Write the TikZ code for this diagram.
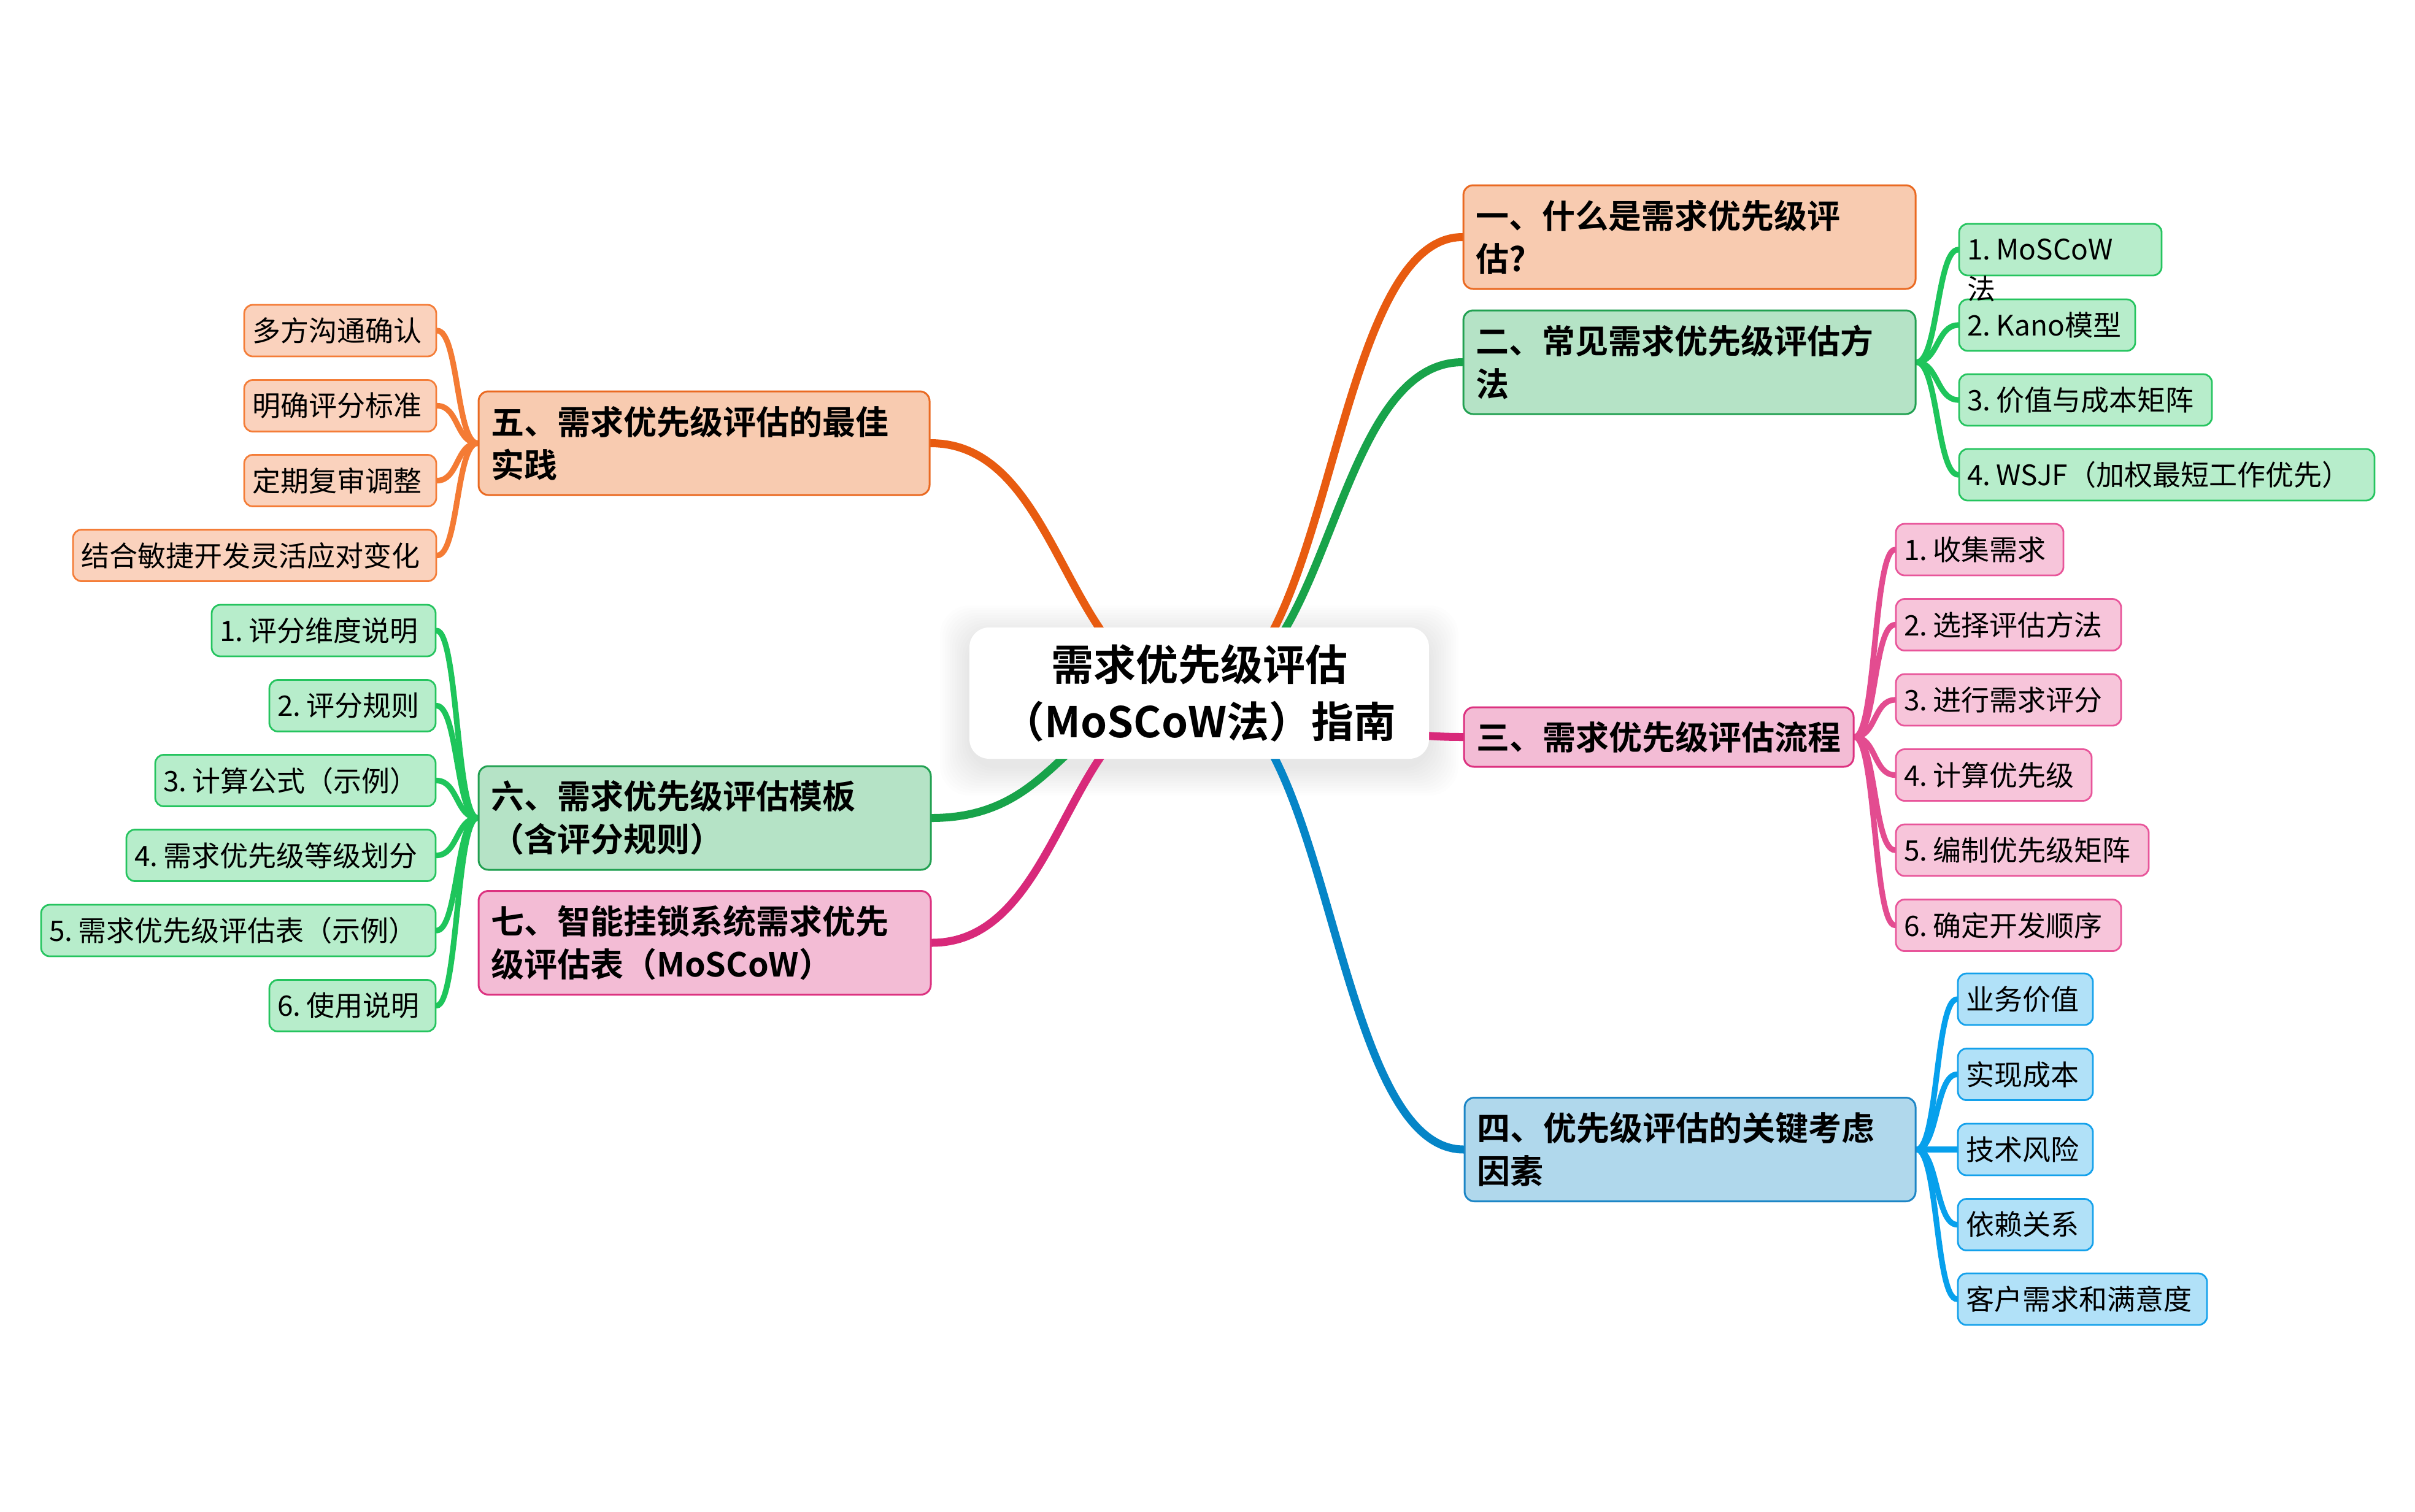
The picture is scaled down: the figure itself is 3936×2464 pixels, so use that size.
\documentclass[tikz,border=0pt]{standalone}
\usepackage{fontspec}
\setmainfont{Noto Sans CJK SC}[BoldFont={Noto Sans CJK SC Bold}]
\pgfdeclarelayer{bg}
\pgfsetlayers{bg,main}
\newcommand\nsp{\hspace{0.2em}}
\definecolor{orLine}{HTML}{E85B10}
\definecolor{orFill}{HTML}{F8CBB0}
\definecolor{orDraw}{HTML}{EA6A22}
\definecolor{orSubFill}{HTML}{FAD2BD}
\definecolor{orSubDraw}{HTML}{F47D38}
\definecolor{orSub}{HTML}{F47B34}
\definecolor{grLine}{HTML}{18A34A}
\definecolor{grFill}{HTML}{B5E3C6}
\definecolor{grDraw}{HTML}{22A152}
\definecolor{grSubFill}{HTML}{B7EDCB}
\definecolor{grSubDraw}{HTML}{25C45F}
\definecolor{grSub}{HTML}{1EC55B}
\definecolor{pkLine}{HTML}{D8297A}
\definecolor{pkFill}{HTML}{F3BCD5}
\definecolor{pkDraw}{HTML}{DC3280}
\definecolor{pkSubFill}{HTML}{F7C5DA}
\definecolor{pkSubDraw}{HTML}{E8559A}
\definecolor{pkSub}{HTML}{E34C90}
\definecolor{blLine}{HTML}{0585C7}
\definecolor{blFill}{HTML}{B0D8EC}
\definecolor{blDraw}{HTML}{1D86C6}
\definecolor{blSubFill}{HTML}{B1E1F8}
\definecolor{blSubDraw}{HTML}{14A1EB}
\definecolor{blSub}{HTML}{07A0EC}
\tikzset{
  rootbox/.style={fill=white, rounded corners=8pt, minimum width=187.25pt, minimum height=53.5pt,
    align=center, inner sep=0pt, font=\fontsize{17.25pt}{23.25pt}\selectfont\bfseries},
  mainbox/.style={rounded corners=4pt, line width=0.75pt, inner xsep=5pt, inner ysep=0pt,
    align=left, minimum height=42.25pt, font=\fontsize{13.5pt}{17.5pt}\selectfont\bfseries},
  subbox/.style={rounded corners=3.5pt, line width=0.7pt, inner xsep=3.25pt, inner ysep=0pt,
    align=left, minimum height=21pt, font=\fontsize{11.5pt}{15pt}\selectfont},
  orM/.style={mainbox, fill=orFill, draw=orDraw},
  grM/.style={mainbox, fill=grFill, draw=grDraw},
  pkM/.style={mainbox, fill=pkFill, draw=pkDraw},
  blM/.style={mainbox, fill=blFill, draw=blDraw},
  orS/.style={subbox, fill=orSubFill, draw=orSubDraw},
  grS/.style={subbox, fill=grSubFill, draw=grSubDraw},
  pkS/.style={subbox, fill=pkSubFill, draw=pkSubDraw},
  blS/.style={subbox, fill=blSubFill, draw=blSubDraw},
  link/.style={line width=3.25pt, line cap=round},
  sublink/.style={line width=2.3pt, line cap=round},
  overflowtext/.style={inner sep=0pt, anchor=west, font=\fontsize{11.5pt}{15pt}\selectfont},
}
\begin{document}
\begin{tikzpicture}[x=0.25pt, y=-0.25pt]
\useasboundingbox (0,0) rectangle (3936,2464);

% root
\node[rootbox] (root) at (1954.5,1130) {需求优先级评估\\（MoSCoW法）指南};

% main topics
\node[orM, text width=174.25pt] (m1) at (2753.5,386.5) {一、什么是需求优先级评\\估?};
\node[grM, text width=174.25pt] (m2) at (2753.5,590.5) {二、常见需求优先级评估方\\法};
\node[pkM, text width=148.75pt, minimum height=24.25pt] (m3) at (2703.5,1201.5) {\mbox{三、需求优先级评估流程}};
\node[blM, text width=173.75pt] (m4) at (2754.5,1874) {四、优先级评估的关键考虑\\因素};
\node[orM, text width=173.75pt] (m5) at (1147.5,722.5) {五、需求优先级评估的最佳\\实践};
\node[grM, text width=174.25pt] (m6) at (1148.5,1333.5) {六、需求优先级评估模板\\（含评分规则）};
\node[pkM, text width=174.25pt] (m7) at (1148.5,1537) {七、智能挂锁系统需求优先\\级评估表（MoSCoW）};

% subtopics of m2
\node[grS, text width=76pt] (s21) at (3358,407) {\mbox{1.\nsp MoSCoW}};
\node[grS, text width=65.25pt] (s22) at (3336.5,530) {\mbox{2.\nsp Kano模型}};
\node[grS, text width=96.5pt] (s23) at (3399,652) {\mbox{3.\nsp 价值与成本矩阵}};
\node[grS, text width=162.75pt] (s24) at (3531.5,774) {\mbox{4.\nsp WSJF（加权最短工作优先）}};
\node[overflowtext] (s21x) at (3206,471) {法};

% subtopics of m3
\node[pkS, text width=61.75pt] (s31) at (3226.5,896) {\mbox{1.\nsp 收集需求}};
\node[pkS, text width=85.25pt] (s32) at (3273.5,1018.5) {\mbox{2.\nsp 选择评估方法}};
\node[pkS, text width=85.25pt] (s33) at (3273.5,1141) {\mbox{3.\nsp 进行需求评分}};
\node[pkS, text width=73.25pt] (s34) at (3249.5,1263.5) {\mbox{4.\nsp 计算优先级}};
\node[pkS, text width=96.5pt] (s35) at (3296,1386) {\mbox{5.\nsp 编制优先级矩阵}};
\node[pkS, text width=85.25pt] (s36) at (3273.5,1508.5) {\mbox{6.\nsp 确定开发顺序}};

% subtopics of m4
\node[blS, text width=48.5pt] (s41) at (3301,1629) {\mbox{业务价值}};
\node[blS, text width=48.5pt] (s42) at (3301,1751.5) {\mbox{实现成本}};
\node[blS, text width=48.5pt] (s43) at (3301,1874) {\mbox{技术风险}};
\node[blS, text width=48.5pt] (s44) at (3301,1996.5) {\mbox{依赖关系}};
\node[blS, text width=95pt] (s45) at (3394,2118) {\mbox{客户需求和满意度}};

% subtopics of m5
\node[orS, text width=71.75pt] (s51) at (554.5,539) {\mbox{多方沟通确认}};
\node[orS, text width=71.75pt] (s52) at (554.5,661.5) {\mbox{明确评分标准}};
\node[orS, text width=71.75pt] (s53) at (554.5,783.5) {\mbox{定期复审调整}};
\node[orS, text width=141.5pt] (s54) at (415,905.5) {\mbox{结合敏捷开发灵活应对变化}};

% subtopics of m6
\node[grS, text width=84.75pt] (s61) at (527.5,1028) {\mbox{1.\nsp 评分维度说明}};
\node[grS, text width=61.25pt] (s62) at (574.5,1150.5) {\mbox{2.\nsp 评分规则}};
\node[grS, text width=107.75pt] (s63) at (481.5,1272.5) {\mbox{3.\nsp 计算公式（示例）}};
\node[grS, text width=119.5pt] (s64) at (458,1394.5) {\mbox{4.\nsp 需求优先级等级划分}};
\node[grS, text width=154.25pt] (s65) at (388.5,1517) {\mbox{5.\nsp 需求优先级评估表（示例）}};
\node[grS, text width=61.25pt] (s66) at (574.5,1639.5) {\mbox{6.\nsp 使用说明}};

\begin{pgfonlayer}{bg}
  \fill[white] (0,0) rectangle (3936,2464);
  % soft shadow of the root
  \foreach \i in {1,...,12}
    \fill[black, opacity=0.008, rounded corners=12pt]
      ({1580-4*\i},{1023-4*\i+12}) rectangle ({2329+4*\i},{1237+4*\i+12});
  % main connectors
  \draw[link, orLine] (root.center) .. controls +(215,0) and +(-215,0) .. (m1.west);
  \draw[link, grLine] (root.center) .. controls +(215,0) and +(-215,0) .. (m2.west);
  \draw[link, pkLine] (root.center) .. controls +(216,0) and +(-216,0) .. (m3.west);
  \draw[link, blLine] (root.center) .. controls +(216,0) and +(-216,0) .. (m4.west);
  \draw[link, orLine] (root.center) .. controls +(-220,0) and +(220,0) .. (m5.east);
  \draw[link, grLine] (root.center) .. controls +(-219,0) and +(219,0) .. (m6.east);
  \draw[link, pkLine] (root.center) .. controls +(-219,0) and +(219,0) .. (m7.east);
  % sub connectors, right side
  \foreach \c in {s21,s22,s23,s24}
    \draw[sublink, grSub] (m2.east) .. controls +(35,0) and +(-35,0) .. (\c.west);
  \foreach \c in {s31,s32,s33,s34,s35,s36}
    \draw[sublink, pkSub] (m3.east) .. controls +(35,0) and +(-35,0) .. (\c.west);
  \foreach \c in {s41,s42,s43,s44,s45}
    \draw[sublink, blSub] (m4.east) .. controls +(35,0) and +(-35,0) .. (\c.west);
  % sub connectors, left side
  \foreach \c in {s51,s52,s53,s54}
    \draw[sublink, orSub] (m5.west) .. controls +(-35,0) and +(35,0) .. (\c.east);
  \foreach \c in {s61,s62,s63,s64,s65,s66}
    \draw[sublink, grSub] (m6.west) .. controls +(-35,0) and +(35,0) .. (\c.east);
\end{pgfonlayer}
\end{tikzpicture}
\end{document}
